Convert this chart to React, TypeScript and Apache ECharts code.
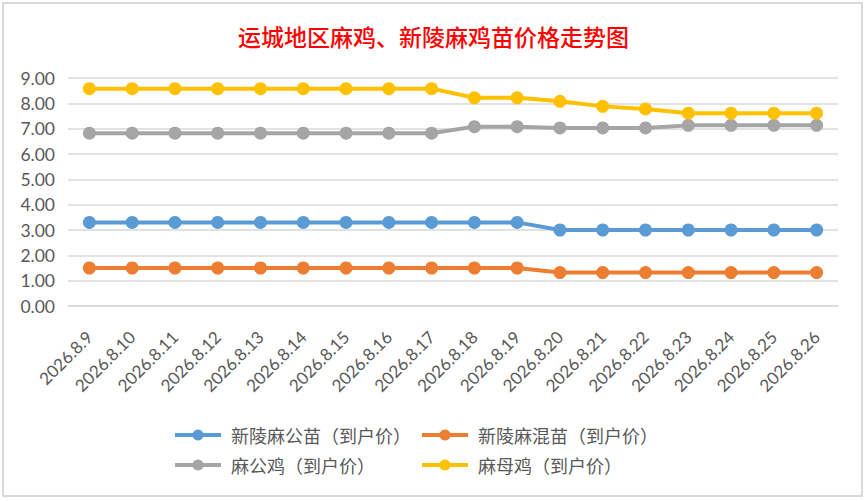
import React, { useEffect, useRef } from "react";
import * as echarts from "echarts";

const categories = [
  "2026.8.9", "2026.8.10", "2026.8.11", "2026.8.12", "2026.8.13", "2026.8.14",
  "2026.8.15", "2026.8.16", "2026.8.17", "2026.8.18", "2026.8.19", "2026.8.20",
  "2026.8.21", "2026.8.22", "2026.8.23", "2026.8.24", "2026.8.25", "2026.8.26",
];
const maleChick = [3.3, 3.3, 3.3, 3.3, 3.3, 3.3, 3.3, 3.3, 3.3, 3.3, 3.3, 3.0, 3.0, 3.0, 3.0, 3.0, 3.0, 3.0];
const mixedChick = [1.5, 1.5, 1.5, 1.5, 1.5, 1.5, 1.5, 1.5, 1.5, 1.5, 1.5, 1.32, 1.32, 1.32, 1.32, 1.32, 1.32, 1.32];
const rooster = [6.82, 6.82, 6.82, 6.82, 6.82, 6.82, 6.82, 6.82, 6.82, 7.08, 7.08, 7.03, 7.03, 7.03, 7.13, 7.13, 7.13, 7.13];
const hen = [8.58, 8.58, 8.58, 8.58, 8.58, 8.58, 8.58, 8.58, 8.58, 8.22, 8.22, 8.08, 7.88, 7.78, 7.61, 7.61, 7.61, 7.61];
const seriesNames = ["新陵麻公苗（到户价）", "新陵麻混苗（到户价）", "麻公鸡（到户价）", "麻母鸡（到户价）"];
const seriesColors = ["#5b9bd5", "#ed7d31", "#a5a5a5", "#ffc000"];
const yTicks = [0, 1, 2, 3, 4, 5, 6, 7, 8, 9];

export default function App() {
  const ref = useRef<HTMLDivElement>(null);
  useEffect(() => {
    document.body.style.margin = "0";
    const chart = echarts.init(ref.current!, undefined, { renderer: "svg" });
    const dataSets = [maleChick, mixedChick, rooster, hen];
    const legendPos = [
      { left: 173, top: 426 },
      { left: 420, top: 426 },
      { left: 173, top: 456 },
      { left: 420, top: 456 },
    ];
    chart.setOption({
      animation: false,
      backgroundColor: "#ffffff",
      title: {
        text: "运城地区麻鸡、新陵麻鸡苗价格走势图",
        left: "center",
        top: 19,
        textStyle: {
          color: "#ff0000",
          fontSize: 23,
          fontWeight: 500,
          fontFamily: "Noto Sans CJK SC",
        },
      },
      legend: seriesNames.map((n, i) => ({
        data: [n],
        left: legendPos[i].left,
        top: legendPos[i].top,
        padding: 0,
        itemWidth: 46,
        itemHeight: 14,
        lineStyle: { width: 4 },
        textStyle: {
          color: "#595959",
          fontSize: 18,
          fontFamily: "Noto Sans CJK SC",
          padding: [0, 0, 0, 5],
        },
      })),
      grid: { left: 68, right: 29, top: 78, bottom: 195, containLabel: false },
      xAxis: {
        type: "category",
        data: categories,
        boundaryGap: true,
        axisLine: { lineStyle: { color: "#d9d9d9", width: 1.5 } },
        axisTick: { show: false },
        axisLabel: {
          rotate: 45,
          interval: 0,
          margin: 28,
          color: "#595959",
          fontSize: 17,
          fontFamily: "Lato",
        },
      },
      yAxis: {
        type: "value",
        min: yTicks[0],
        max: yTicks[yTicks.length - 1],
        interval: 1,
        axisLine: { show: false },
        axisTick: { show: false },
        splitLine: { lineStyle: { color: "#d9d9d9", width: 1.5 } },
        axisLabel: {
          formatter: (v: number) => v.toFixed(2),
          color: "#595959",
          fontSize: 17.5,
          fontFamily: "Lato",
          margin: 13,
        },
      },
      series: seriesNames.map((n, i) => ({
        name: n,
        type: "line",
        data: dataSets[i],
        symbol: "circle",
        symbolSize: 13,
        itemStyle: { color: seriesColors[i] },
        lineStyle: { color: seriesColors[i], width: 4 },
        emphasis: { disabled: true },
      })),
      graphic: [
        {
          type: "rect",
          shape: { x: 3, y: 3, width: 859, height: 493 },
          style: { fill: "none", stroke: "#d9d9d9", lineWidth: 2 },
          silent: true,
        },
      ],
    });
    return () => chart.dispose();
  }, []);
  return (
    <div
      ref={ref}
      style={{ position: "absolute", left: 0, top: 0, width: 867, height: 501 }}
    />
  );
}
